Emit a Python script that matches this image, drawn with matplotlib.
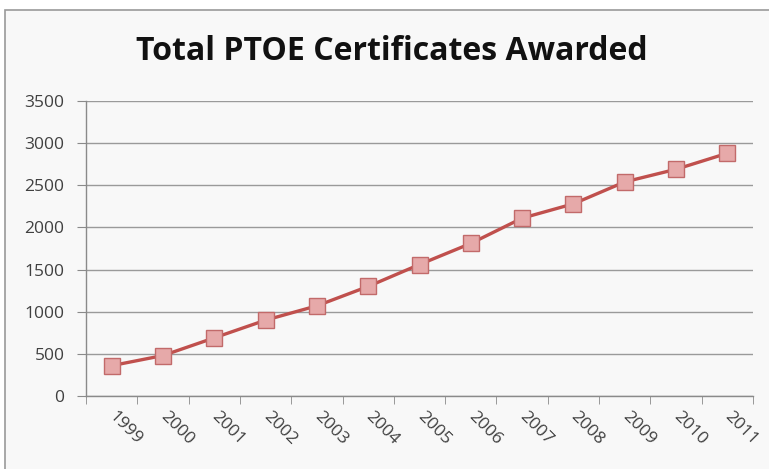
import matplotlib
matplotlib.use("Agg")
import matplotlib.pyplot as plt
from matplotlib.patches import Rectangle
from matplotlib.ticker import FixedLocator
from matplotlib.transforms import ScaledTranslation

years = ["1999", "2000", "2001", "2002", "2003", "2004", "2005",
         "2006", "2007", "2008", "2009", "2010", "2011"]
certificates = [360, 480, 690, 900, 1070, 1300, 1560, 1810, 2110, 2280, 2540, 2690, 2880]
y_ticks = [0, 500, 1000, 1500, 2000, 2500, 3000, 3500]
title = "Total PTOE Certificates Awarded"

font = "Open Sans"
bg = "#f8f8f8"
fig = plt.figure(figsize=(7.69, 4.69), dpi=100)
fig.patch.set_facecolor("white")
fig.patches.append(Rectangle((5/769, -0.05), 1.1, 1 - 10/469 + 0.05,
                             transform=fig.transFigure, facecolor=bg,
                             edgecolor="#9a9a9a", linewidth=1.2, zorder=-5))

ax = fig.add_axes([86/769, 1 - 396/469, (753 - 86)/769, (396 - 101)/469])
ax.set_zorder(2)
ax.set_facecolor(bg)

x = list(range(len(years)))
ax.plot(x, certificates, color="#c0504d", linewidth=2.4, marker="s",
        markersize=11, markerfacecolor="#e6a9a9", markeredgecolor="#c26a6a",
        markeredgewidth=1.0, zorder=3)

ax.set_xlim(-0.5, len(years) - 0.5)
ax.set_ylim(0, 3500)
ax.set_yticks(y_ticks)
ax.set_yticklabels([str(v) for v in y_ticks], fontsize=12.5, color="#404040",
                   family=font)
ax.yaxis.grid(True, color="#9a9a9a", linewidth=1.0)
ax.set_axisbelow(True)

ax.set_xticks(x)
ax.set_xticklabels(years, rotation=-45, rotation_mode="anchor", ha="left",
                   va="center", fontsize=12.5, color="#404040", family=font)
shift = ScaledTranslation(-4/100, 0, fig.dpi_scale_trans)
for lab in ax.get_xticklabels():
    lab.set_transform(lab.get_transform() + shift)
ax.xaxis.set_minor_locator(FixedLocator([i - 0.5 for i in range(len(years) + 1)]))
ax.tick_params(axis="x", which="major", length=0, pad=13)
ax.tick_params(axis="x", which="minor", length=6, color="#8a8a8a", direction="out")
ax.tick_params(axis="y", length=6.5, color="#8a8a8a", direction="out", pad=9)

for side in ["top", "right"]:
    ax.spines[side].set_visible(False)
for side in ["left", "bottom"]:
    ax.spines[side].set_color("#8a8a8a")
    ax.spines[side].set_linewidth(1.0)

fig.text(392/769, 1 - 52/469, title, ha="center", va="center",
         fontsize=23, fontweight="bold", family=font, color="#111111")

fig.savefig("out.png", dpi=100, facecolor=fig.get_facecolor())
